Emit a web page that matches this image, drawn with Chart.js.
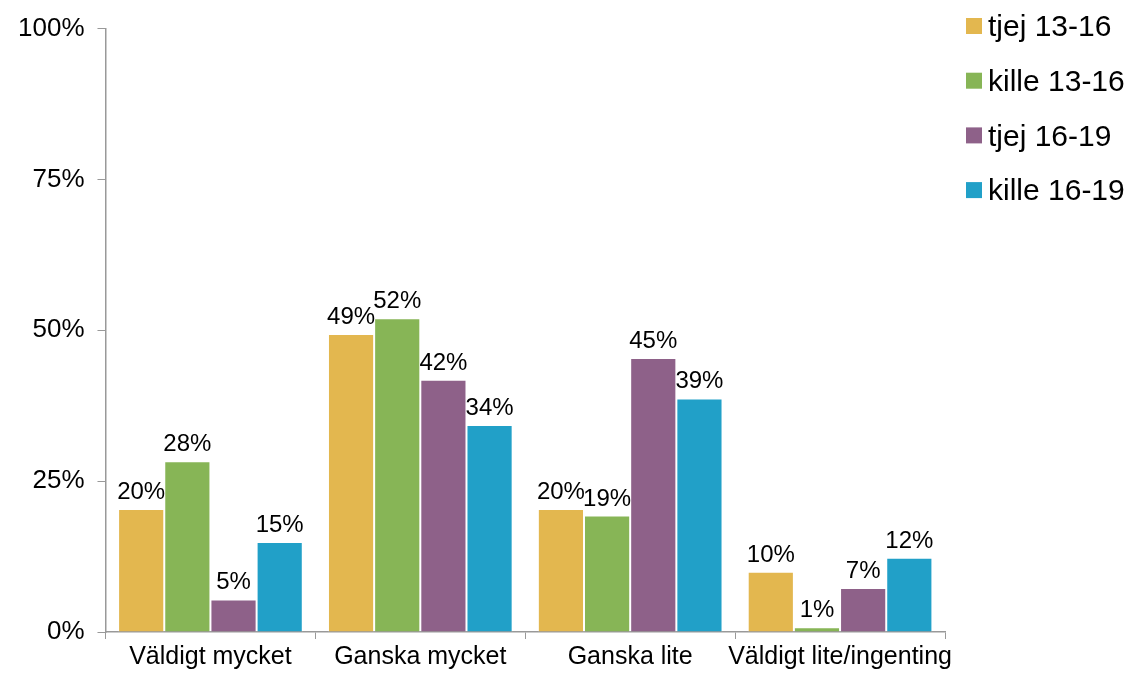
<!DOCTYPE html>
<html>
<head>
<meta charset="utf-8">
<script src="https://cdn.jsdelivr.net/npm/chart.js@4/dist/chart.umd.min.js"></script>
<style>
  html, body { margin: 0; padding: 0; background: #fff; }
  #wrap { width: 1136px; height: 675px; }
</style>
</head>
<body>
<div id="wrap"><canvas id="chart" width="1136" height="675"></canvas></div>
<script>
// Kategorier och serier (andelar i procent)
const categories = ['Väldigt mycket', 'Ganska mycket', 'Ganska lite', 'Väldigt lite/ingenting'];
const seriesNames = ['tjej 13-16', 'kille 13-16', 'tjej 16-19', 'kille 16-19'];
const tjej1316 = [20.4, 49.4, 20.4, 10.0];
const kille1316 = [28.3, 52.0, 19.3, 0.8];
const tjej1619 = [5.4, 41.8, 45.4, 7.3];
const kille1619 = [14.9, 34.3, 38.7, 12.3];
const yTicks = [0, 25, 50, 75, 100];

const colors = ['#E3B74F', '#87B556', '#8E6189', '#21A0C8'];
const FONT = 'Arial, "Liberation Sans", sans-serif';

// Etiketter ovanför staplarna
const valueLabels = {
    id: 'valueLabels',
    afterDatasetsDraw(chart) {
        const ctx = chart.ctx;
        ctx.save();
        ctx.font = '24px ' + FONT;
        ctx.fillStyle = '#000';
        ctx.textAlign = 'center';
        ctx.textBaseline = 'alphabetic';
        chart.data.datasets.forEach((ds, i) => {
            const meta = chart.getDatasetMeta(i);
            meta.data.forEach((bar, j) => {
                ctx.fillText(Math.round(ds.data[j]) + '%', bar.x, bar.y - 10);
            });
        });
        ctx.restore();
    }
};

// Förklaring till höger (egen ritning för att styra placeringen)
const sideLegend = {
    id: 'sideLegend',
    afterDraw(chart) {
        const ctx = chart.ctx;
        ctx.save();
        ctx.font = '30px ' + FONT;
        ctx.textBaseline = 'middle';
        ctx.textAlign = 'left';
        seriesNames.forEach((name, i) => {
            const y = 27 + i * 54.7;
            ctx.fillStyle = colors[i];
            ctx.fillRect(966, y - 9, 16, 16);
            ctx.fillStyle = '#000';
            ctx.fillText(name, 988, y + 1);
        });
        ctx.restore();
    }
};

const series = [tjej1316, kille1316, tjej1619, kille1619];

new Chart(document.getElementById('chart'), {
    type: 'bar',
    data: {
        labels: categories,
        datasets: series.map((data, i) => ({
            label: seriesNames[i],
            data,
            backgroundColor: colors[i],
            borderColor: 'rgba(255,255,255,0.5)',
            borderWidth: 1,
            categoryPercentage: 0.88,
            barPercentage: 1.0,
        })),
    },
    options: {
        responsive: false,
        animation: false,
        layout: { padding: { top: -2, right: 191, left: 5, bottom: 0 } },
        plugins: {
            legend: { display: false },
            tooltip: { enabled: false },
        },
        scales: {
            x: {
                grid: { drawOnChartArea: false, drawTicks: true, tickLength: 7, color: '#999' },
                border: { color: '#999', width: 1.5 },
                ticks: { color: '#000', font: { size: 25, family: FONT }, padding: 3, maxRotation: 0, autoSkip: false },
            },
            y: {
                min: 0,
                max: 100,
                afterBuildTicks: (axis) => { axis.ticks = yTicks.map(v => ({ value: v })); },
                grid: { drawOnChartArea: false, drawTicks: true, tickLength: 8, color: '#999' },
                border: { color: '#999', width: 1.5 },
                ticks: {
                    color: '#000',
                    font: { size: 26, family: FONT },
                    padding: 13,
                    callback: (v) => v + '%',
                },
            },
        },
    },
    plugins: [valueLabels, sideLegend],
});
</script>
</body>
</html>
